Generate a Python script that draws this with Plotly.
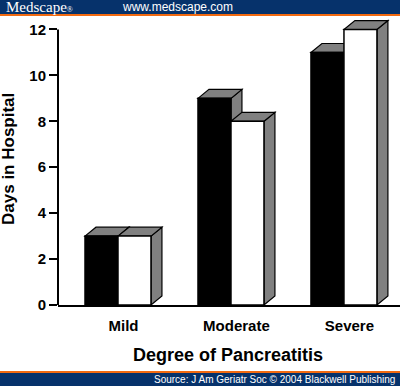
import plotly.graph_objects as go

categories = ["Mild", "Moderate", "Severe"]
series_black = [3, 9, 11]
series_white = [3, 8, 12]
y_ticks = [0, 2, 4, 6, 8, 10, 12]

BAR_W = 0.292
DX = 0.097
DY = 0.39
NAVY = "#06326b"
ORANGE = "#f26a10"
GRAY = "#808080"

xs = list(range(len(categories)))

fig = go.Figure()
fig.add_trace(go.Bar(x=xs, y=series_black, width=BAR_W, offset=-BAR_W,
                     marker=dict(color="black", line=dict(color="black", width=1.5)),
                     showlegend=False, hoverinfo="skip"))
fig.add_trace(go.Bar(x=xs, y=series_white, width=BAR_W, offset=0,
                     marker=dict(color="white", line=dict(color="black", width=1.5)),
                     showlegend=False, hoverinfo="skip"))

shapes = []
def faces(x0, v):
    x1 = x0 + BAR_W
    top = f"M {x0} {v} L {x0+DX} {v+DY} L {x1+DX} {v+DY} L {x1} {v} Z"
    side = f"M {x1} 0 L {x1} {v} L {x1+DX} {v+DY} L {x1+DX} {DY} Z"
    out = []
    for p in (side, top):
        out.append(dict(type="path", path=p, xref="x", yref="y", layer="below",
                        fillcolor=GRAY, line=dict(color="black", width=1.2)))
    return out

for i in xs:
    shapes += faces(i - BAR_W, series_black[i])
for i in xs:
    shapes += faces(i, series_white[i])

# y axis line (0..12)
shapes.append(dict(type="line", xref="paper", yref="y", x0=0, x1=0, y0=0, y1=max(y_ticks),
                   line=dict(color="black", width=2)))
# header / footer bands
shapes.append(dict(type="rect", xref="paper", yref="paper", x0=-0.5, x1=1.5,
                   ysizemode="pixel", yanchor=1, y0=4, y1=40, fillcolor=NAVY, line_width=0))
shapes.append(dict(type="rect", xref="paper", yref="paper", x0=-0.5, x1=1.5,
                   ysizemode="pixel", yanchor=1, y0=2, y1=4, fillcolor=ORANGE, line_width=0))
shapes.append(dict(type="rect", xref="paper", yref="paper", x0=-0.5, x1=1.5,
                   ysizemode="pixel", yanchor=0, y0=-68, y1=-66, fillcolor=ORANGE, line_width=0))
shapes.append(dict(type="rect", xref="paper", yref="paper", x0=-0.5, x1=1.5,
                   ysizemode="pixel", yanchor=0, y0=-100, y1=-68, fillcolor=NAVY, line_width=0))

annotations = [
    dict(text="Medscape<span style='font-size:8px'>®</span>", xref="paper", yref="paper", x=0, y=1,
         xanchor="left", yanchor="middle", xshift=-54, yshift=11, showarrow=False,
         font=dict(family="Liberation Serif, Times New Roman, serif", size=15, color="white")),
    dict(text="www.medscape.com", xref="paper", yref="paper", x=0, y=1,
         xanchor="left", yanchor="middle", xshift=62, yshift=11, showarrow=False,
         font=dict(family="Liberation Sans, Arial, sans-serif", size=12, color="white")),
    dict(text="Source: J Am Geriatr Soc © 2004 Blackwell Publishing", xref="paper", yref="paper",
         x=1, y=0, xanchor="right", yanchor="middle", xshift=-3, yshift=-74, showarrow=False,
         font=dict(family="Liberation Sans, Arial, sans-serif", size=10, color="white")),
    dict(text="<b>Days in Hospital</b>", xref="paper", yref="y", x=0, y=6.36,
         xanchor="center", yanchor="middle", xshift=-49, textangle=-90, showarrow=False,
         font=dict(family="Liberation Sans, Arial, sans-serif", size=17, color="black")),
    dict(text="<b>Degree of Pancreatitis</b>", xref="paper", yref="paper", x=0, y=0,
         xanchor="center", yanchor="middle", xshift=170, yshift=-50, showarrow=False,
         font=dict(family="Liberation Sans, Arial, sans-serif", size=18, color="black")),
]

fig.update_layout(
    width=400, height=386,
    margin=dict(l=58, r=0, t=18, b=81, pad=0),
    paper_bgcolor="white", plot_bgcolor="white",
    barmode="overlay",
    shapes=shapes, annotations=annotations,
    font=dict(family="Liberation Sans, Arial, sans-serif", color="black"),
    xaxis=dict(range=[-0.531, 2.496], tickvals=[i + DX / 2 for i in xs], ticktext=[f"<b>{c}</b>" for c in categories],
               showline=True, linecolor="black", linewidth=2, ticks="", showgrid=False, zeroline=False,
               tickfont=dict(size=15), ticklabelstandoff=6, fixedrange=True),
    yaxis=dict(range=[0, 12.5], tickvals=y_ticks, ticktext=[f"<b>{t}</b>" for t in y_ticks],
               showline=False, ticks="outside", ticklen=8, tickwidth=2, tickcolor="black",
               showgrid=False, zeroline=False, tickfont=dict(size=15), fixedrange=True),
)

fig.write_html("out.html", config={"displayModeBar": False},
               post_script="document.body.style.margin='0';document.body.style.overflow='hidden';")
